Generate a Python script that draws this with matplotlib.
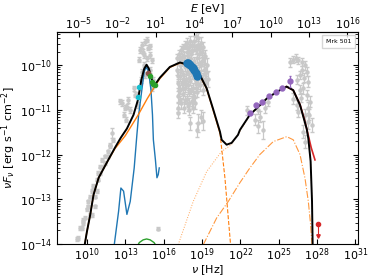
import numpy as np
import matplotlib.pyplot as plt
from matplotlib.lines import Line2D

H_EV = 4.135667e-15  # Planck constant [eV s]

# ---------- model curves (log10 nu, log10 nuFnu) ----------
total_lognu = [9.84, 10.0, 10.26, 10.52, 10.92, 11.56, 12.19, 12.66, 13.13, 13.65, 13.99,
               14.26, 14.48, 14.67, 14.85, 15.09, 15.32, 15.71, 16.49, 17.28, 18.06, 18.84,
               19.37, 19.86, 20.41, 20.54, 20.93, 21.32, 21.82, 21.97, 22.75, 23.01, 24.06,
               24.84, 25.63, 26.14, 26.67, 27.19, 27.32, 27.50, 27.61, 27.66]
total_logF = [-14.0, -13.73, -13.35, -12.90, -12.52, -12.18, -11.85, -11.62, -11.42, -11.11, -10.78,
              -10.33, -10.08, -9.99, -10.08, -10.33, -10.44, -10.28, -10.04, -9.94, -10.0, -10.22,
              -10.52, -10.97, -11.49, -11.67, -11.78, -11.74, -11.56, -11.45, -11.11, -11.04, -10.75,
              -10.60, -10.48, -10.56, -10.89, -11.42, -11.64, -12.15, -13.05, -14.02]

sync_lognu = [9.84, 10.0, 10.26, 10.52, 10.92, 11.56, 12.19, 13.0, 14.0, 14.7, 15.32, 15.71,
              16.49, 17.28, 18.06, 18.84, 19.37, 19.86, 20.41]
sync_logF = [-14.0, -13.73, -13.35, -12.90, -12.52, -12.18, -11.87, -11.58, -11.12, -10.76, -10.47,
             -10.30, -10.05, -9.95, -10.01, -10.23, -10.53, -10.99, -11.52]
sync_tail_lognu = [20.41, 20.54, 20.80, 21.06, 21.24]
sync_tail_logF = [-11.52, -11.86, -12.53, -13.42, -14.02]

ssc1_lognu = [17.14, 18.32, 19.37, 20.54, 21.06, 21.32, 21.97, 22.75, 23.01, 24.06, 24.84, 25.63,
              26.14, 26.67, 27.19, 27.32, 27.50, 27.61, 27.66]
ssc1_logF = [-14.02, -13.05, -12.38, -11.93, -11.83, -11.77, -11.48, -11.12, -11.05, -10.76, -10.61,
             -10.49, -10.57, -10.90, -11.43, -11.65, -12.16, -13.06, -14.03]

ssc2_lognu = [19.10, 20.15, 21.06, 21.97, 22.75, 23.53, 24.58, 25.63, 26.14, 26.67, 27.06, 27.32,
              27.50, 27.61]
ssc2_logF = [-14.02, -13.42, -13.05, -12.63, -12.30, -12.00, -11.71, -11.60, -11.67, -12.00, -12.53,
             -13.05, -13.57, -14.02]

intr_lognu = [25.60, 26.14, 26.67, 27.00, 27.30, 27.55, 27.84]
intr_logF = [-10.48, -10.56, -10.88, -11.20, -11.55, -11.85, -12.12]

host_lognu = [12.14, 12.48, 12.66, 12.87, 13.13, 13.39, 13.70, 13.91, 14.05, 14.30, 14.48, 14.64,
              14.83, 15.01, 15.13, 15.20, 15.36, 15.48, 15.58, 15.66]
host_logF = [-14.02, -13.27, -12.75, -12.82, -13.34, -13.05, -12.30, -11.56, -11.11, -10.55, -10.15,
             -10.04, -10.15, -10.55, -11.11, -11.67, -12.12, -12.52, -12.45, -12.30]

disk_lognu = [13.85, 14.10, 14.40, 14.67, 14.95, 15.25, 15.55]
disk_logF = [-14.1, -13.97, -13.91, -13.89, -13.91, -13.97, -14.1]

# ---------- archival data (grey) ----------
# radio
radio_lognu = [9.19, 9.32, 9.45, 9.59, 9.66, 9.71, 9.84, 9.98, 10.10, 10.10, 10.23, 10.23, 10.37,
               10.39, 10.49, 10.63, 10.63, 10.76, 10.76, 10.88, 10.88, 11.02, 11.02, 11.15, 11.15,
               11.41, 11.41, 11.67, 11.67, 11.80, 11.80, 12.06]
radio_logF = [-13.89, -13.87, -13.64, -13.64, -13.53, -13.46, -13.41, -13.23, -13.16, -13.05, -12.94,
              -13.35, -12.82, -13.35, -12.71, -13.16, -12.94, -12.56, -12.82, -12.41, -12.56, -12.27,
              -12.41, -12.12, -12.27, -12.04, -12.19, -11.93, -12.04, -11.78, -11.82, -11.67]
# infrared / optical / UV
opt_arch_lognu = [11.93, 12.58, 12.71, 12.90, 12.97, 13.05, 13.11, 13.23, 13.36, 13.65, 13.76, 13.91,
                  13.99, 14.07, 14.17, 14.23, 14.30, 14.30, 14.38, 14.46, 14.48, 14.54, 14.54, 14.67,
                  14.69, 14.77, 14.93, 14.93, 14.95, 15.09, 15.09, 15.16, 15.58]
opt_arch_logF = [-11.52, -10.81, -10.85, -11.11, -10.95, -11.22, -10.93, -10.78, -11.00, -10.52,
                 -10.66, -10.67, -10.89, -9.88, -9.66, -10.33, -9.55, -10.15, -9.70, -9.99, -9.78,
                 -9.48, -10.22, -9.43, -9.85, -9.61, -9.58, -10.11, -9.77, -9.89, -10.51, -10.33,
                 -13.66]
# X-ray
xray_lognu = [17.05, 17.05, 17.10, 17.10, 17.15, 17.20, 17.25, 17.25, 17.30, 17.35, 17.35, 17.40,
              17.45, 17.45, 17.50, 17.55, 17.55, 17.60, 17.60, 17.65, 17.70, 17.70, 17.75, 17.80,
              17.80, 17.85, 17.85, 17.90, 17.95, 17.95, 18.00, 18.00, 18.05, 18.10, 18.10, 18.15,
              18.20, 18.25, 18.25, 18.30, 18.35, 18.40, 18.40, 18.45, 18.50, 18.55, 18.55, 18.60,
              18.65, 18.70, 18.75, 18.80, 18.85, 18.90, 18.95, 19.00, 19.05, 19.10, 19.15, 19.25,
              19.30, 19.40, 19.50, 18.95, 19.10, 18.70, 18.05, 17.15, 18.60,
              17.12, 17.18, 17.28, 17.32, 17.42, 17.48, 17.58, 17.62, 17.68, 17.78, 17.82, 17.92,
              17.98, 18.02, 18.12, 18.18, 18.22, 18.32, 18.38, 18.42, 18.52, 18.58, 18.62, 18.68,
              18.72, 18.78, 18.88, 18.92, 19.02, 19.08, 19.18, 19.22, 19.35, 18.48, 18.28, 17.88]
xray_logF = [-9.85, -10.10, -10.40, -10.70, -10.95, -9.75, -10.00, -10.25, -10.55, -9.65, -10.85,
             -10.10, -9.90, -10.40, -10.65, -9.60, -10.20, -9.80, -10.95, -10.50, -9.55, -10.05,
             -10.30, -9.70, -10.75, -9.50, -10.15, -10.45, -9.85, -11.00, -9.60, -10.60, -10.10,
             -9.45, -10.35, -9.75, -10.80, -9.55, -10.20, -10.50, -9.90, -9.45, -10.70, -10.05,
             -9.65, -9.35, -10.35, -9.85, -10.60, -9.55, -10.15, -9.75, -10.45, -9.50, -10.00,
             -9.70, -10.30, -9.60, -10.10, -9.80, -10.40, -10.00, -10.30, -11.15, -11.25, -11.30,
             -11.30, -11.08, -11.45,
             -10.25, -10.55, -9.88, -10.78, -9.82, -10.52, -10.35, -9.92, -10.78, -10.42, -9.88,
             -9.70, -10.28, -10.85, -9.95, -10.55, -9.68, -10.72, -9.58, -10.30, -10.52, -9.62,
             -10.10, -9.40, -10.42, -9.95, -9.62, -10.25, -9.90, -10.55, -9.85, -10.20, -10.15,
             -10.85, -10.95, -10.92]
xray_dex = [0.10, 0.12, 0.10, 0.12, 0.10, 0.10, 0.08, 0.10, 0.10, 0.08, 0.12, 0.08, 0.08, 0.10,
            0.10, 0.08, 0.08, 0.10, 0.12, 0.10, 0.08, 0.08, 0.10, 0.08, 0.10, 0.10, 0.08, 0.10,
            0.08, 0.12, 0.08, 0.10, 0.10, 0.10, 0.10, 0.08, 0.12, 0.08, 0.10, 0.10, 0.08, 0.10,
            0.12, 0.10, 0.10, 0.12, 0.10, 0.10, 0.12, 0.10, 0.10, 0.10, 0.12, 0.12, 0.10, 0.12,
            0.12, 0.12, 0.12, 0.15, 0.15, 0.15, 0.18, 0.15, 0.20, 0.20, 0.15, 0.10, 0.15,
            0.10, 0.10, 0.08, 0.10, 0.08, 0.10, 0.10, 0.08, 0.10, 0.10, 0.08, 0.08, 0.10, 0.12,
            0.08, 0.10, 0.08, 0.12, 0.10, 0.10, 0.10, 0.10, 0.10, 0.12, 0.12, 0.10, 0.10, 0.12,
            0.12, 0.12, 0.12, 0.15, 0.15, 0.12, 0.12, 0.10]
# gamma rays
gamma_lognu = [22.50, 23.15, 23.40, 23.54, 23.40, 23.80, 23.93, 24.16,
               25.88, 26.14, 26.35, 26.53, 26.80, 27.06, 27.19, 27.32, 26.67, 26.93, 27.19, 27.45,
               27.06, 27.32, 27.58, 26.41, 26.14, 26.93, 26.43, 26.67, 26.84, 27.00, 26.51, 27.26,
               27.41, 27.06, 26.76]
gamma_logF = [-11.01, -11.22, -11.00, -11.15, -11.37, -11.45, -10.95, -10.82,
              -9.93, -9.88, -9.84, -9.89, -9.93, -10.00, -10.15, -10.37, -10.22, -10.52, -10.67,
              -10.82, -11.12, -11.27, -11.34, -10.89, -10.75, -11.49, -10.33, -10.55, -10.11, -10.28,
              -11.04, -10.95, -11.11, -11.71, -10.73]
gamma_dex = [0.10, 0.12, 0.10, 0.12, 0.15, 0.20, 0.12, 0.10,
             0.10, 0.08, 0.08, 0.08, 0.08, 0.10, 0.10, 0.12, 0.10, 0.12, 0.12, 0.12, 0.15, 0.15,
             0.15, 0.12, 0.12, 0.15, 0.10, 0.10, 0.10, 0.10, 0.12, 0.12, 0.12, 0.15, 0.10]

# ---------- contemporaneous data ----------
uvot_lognu = [13.97, 14.09]
uvot_logF = [-10.72, -10.48]
opt_lognu = [14.80]
opt_logF = [-10.18]
uv_lognu = [14.95, 15.10, 15.20, 15.30]
uv_logF = [-10.25, -10.38, -10.42, -10.44]
xrt_lognu = [17.80, 17.90, 18.00, 18.10, 18.20, 18.30, 18.40, 18.50, 18.60]
xrt_logF = [-9.95, -9.96, -9.98, -10.00, -10.03, -10.07, -10.11, -10.17, -10.25]
lat_lognu = [22.75, 23.25, 23.69, 24.26, 24.77, 25.26, 25.92]
lat_logF = [-11.07, -10.89, -10.82, -10.70, -10.59, -10.51, -10.36]
lat_dex = [0.05, 0.05, 0.04, 0.04, 0.04, 0.05, 0.12]
ul_lognu = [28.10]
ul_logF = [-13.55]

GREY = '#c8c8c8'


def p(a):
    return 10.0 ** np.asarray(a)


def grey_points(ax, lognu, logF, dex):
    F = p(logF)
    d = np.asarray(dex)
    ax.errorbar(p(lognu), F, yerr=[F - F * 10 ** -d, F * 10 ** d - F], fmt='o', ms=2.2,
                color=GREY, ecolor=GREY, elinewidth=0.9, capsize=1.2, zorder=1)


fig = plt.figure(figsize=(3.74, 2.8), dpi=100)
ax = fig.add_axes([0.152, 0.129, 0.805, 0.757])

grey_points(ax, radio_lognu, radio_logF, [0.04] * len(radio_lognu))
grey_points(ax, opt_arch_lognu, opt_arch_logF, [0.12] + [0.06] * (len(opt_arch_lognu) - 2) + [0.03])
grey_points(ax, xray_lognu, xray_logF, xray_dex)
grey_points(ax, gamma_lognu, gamma_logF, gamma_dex)

ax.plot(p(disk_lognu), p(disk_logF), color='#2ca02c', lw=1.0, zorder=2)
ax.plot(p(host_lognu), p(host_logF), color='#1f77b4', lw=1.0, zorder=3)
ax.plot(p(sync_lognu), p(sync_logF), color='#ff7f0e', lw=1.0, zorder=3)
ax.plot(p(sync_tail_lognu), p(sync_tail_logF), color='#ff7f0e', lw=0.8, ls='--', zorder=3)
ax.plot(p(ssc1_lognu), p(ssc1_logF), color='#ff7f0e', lw=0.7, ls=':', alpha=0.7, zorder=3)
ax.plot(p(ssc2_lognu), p(ssc2_logF), color='#ff7f0e', lw=0.8, ls='-.', alpha=0.8, zorder=3)
ax.plot(p(intr_lognu), p(intr_logF), color='#d62728', lw=1.2, zorder=4)
ax.plot(p(total_lognu), p(total_logF), color='black', lw=1.4, zorder=5)

ax.plot(p(uvot_lognu), p(uvot_logF), 'o', ms=3, color='#17becf', zorder=6)
ax.plot(p(opt_lognu), p(opt_logF), 'o', ms=3, color='#8c564b', zorder=6)
ax.plot(p(uv_lognu), p(uv_logF), 'o', ms=3, color='#2ca02c', zorder=6)
ax.plot(p(xrt_lognu), p(xrt_logF), 'o', ms=5, color='#1f77b4', zorder=6)
lF = p(lat_logF)
ld = np.asarray(lat_dex)
ax.errorbar(p(lat_lognu), lF, yerr=[lF - lF * 10 ** -ld, lF * 10 ** ld - lF], fmt='o', ms=3.5,
            color='#9467bd', elinewidth=0.8, capsize=1, zorder=6)
uF = p(ul_logF)
ax.errorbar(p(ul_lognu), uF, yerr=[uF - uF * 10 ** -0.25, uF * 0], fmt='o', ms=3,
            color='#d62728', elinewidth=0.8, zorder=6)
ax.plot(p(ul_lognu), uF * 10 ** -0.27, 'v', ms=2.5, color='#d62728', zorder=6)

ax.set_xscale('log')
ax.set_yscale('log')
ax.set_xlim(10 ** 7.65, 10 ** 31.2)
ax.set_ylim(1e-14, 10 ** -9.256)
ax.set_xticks([10.0 ** k for k in range(10, 32, 3)])
ax.xaxis.set_minor_locator(plt.NullLocator())
ax.tick_params(which='both', direction='in', right=True, labelsize=8)
ax.tick_params(axis='x', pad=2)
ax.set_xlabel(r'$\nu$ [Hz]', fontsize=8, labelpad=0)
ax.set_ylabel(r'$\nu F_\nu$ [erg s$^{-1}$ cm$^{-2}$]', fontsize=8, labelpad=1)

sec = ax.secondary_xaxis('top', functions=(lambda x: x * H_EV, lambda e: e / H_EV))
sec.set_xticks([10.0 ** k for k in range(-5, 17, 3)])
sec.xaxis.set_minor_locator(plt.NullLocator())
sec.tick_params(direction='in', labelsize=8, pad=0)
sec.set_xlabel(r'$E$ [eV]', fontsize=8, labelpad=2)

ax.legend([Line2D([], [], ls='none')], ['Mrk 501'], loc='upper right', fontsize=4.5,
          handlelength=0, handletextpad=0, borderpad=0.6, fancybox=False)

fig.savefig('out.png', dpi=100)
